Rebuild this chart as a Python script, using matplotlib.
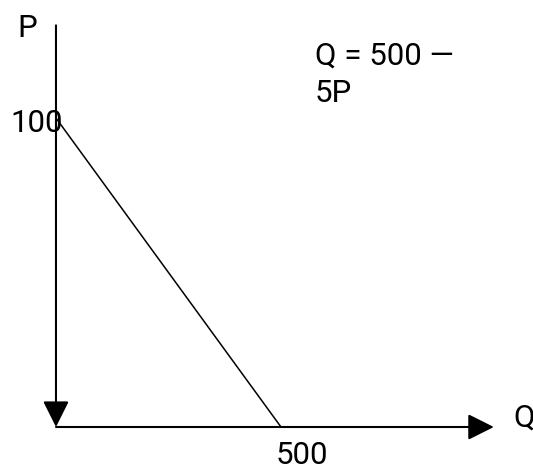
import matplotlib
matplotlib.use("Agg")
import matplotlib.pyplot as plt
from matplotlib.patches import FancyArrowPatch

# ------------------------------------ demand curve data
demand_q = [0, 500]
demand_p = [100, 0]

p_axis_top = 130      # top end of the P axis
q_axis_end = 973      # tip of the Q axis arrow
q_tick_label = "500"
p_tick_label = "100"
equation = ["Q = 500 \u2014", "5P"]

plt.rcParams["font.family"] = ["Roboto", "DejaVu Sans"]

fig = plt.figure(figsize=(5.33, 4.68), dpi=100)
ax = fig.add_axes([0, 0, 1, 1])
ax.set_xlim(-124.4, 1060.0)
ax.set_ylim(-13.27, 138.2)
ax.axis("off")

# ------------------------------------ axes with arrow heads
vert = FancyArrowPatch(
    (0, p_axis_top), (0, 0), arrowstyle="-|>,head_length=16,head_width=8",
    mutation_scale=1, color="black", lw=1.5, shrinkA=0, shrinkB=0)
ax.add_patch(vert)

horz = FancyArrowPatch(
    (0, 0), (q_axis_end, 0), arrowstyle="-|>,head_length=16,head_width=8",
    mutation_scale=1, color="black", lw=1.5, shrinkA=0, shrinkB=0)
ax.add_patch(horz)

ax.plot(demand_q, demand_p, color="black", lw=1.1, solid_capstyle="butt")

# ------------------------------------ labels
fs = 22.5
ax.text(-86.7, 126.2, "P", fontsize=fs, ha="left", va="baseline")
ax.text(-102, 95.5, p_tick_label, fontsize=fs, ha="left", va="baseline")
ax.text(489, -12.0, q_tick_label, fontsize=fs, ha="left", va="baseline")
ax.text(1015.6, 0, "Q", fontsize=fs, ha="left", va="baseline")
ax.text(575.6, 117.2, equation[0], fontsize=fs, ha="left", va="baseline")
ax.text(575.6, 105.2, equation[1], fontsize=fs, ha="left", va="baseline")

fig.savefig("out.png", dpi=100)
